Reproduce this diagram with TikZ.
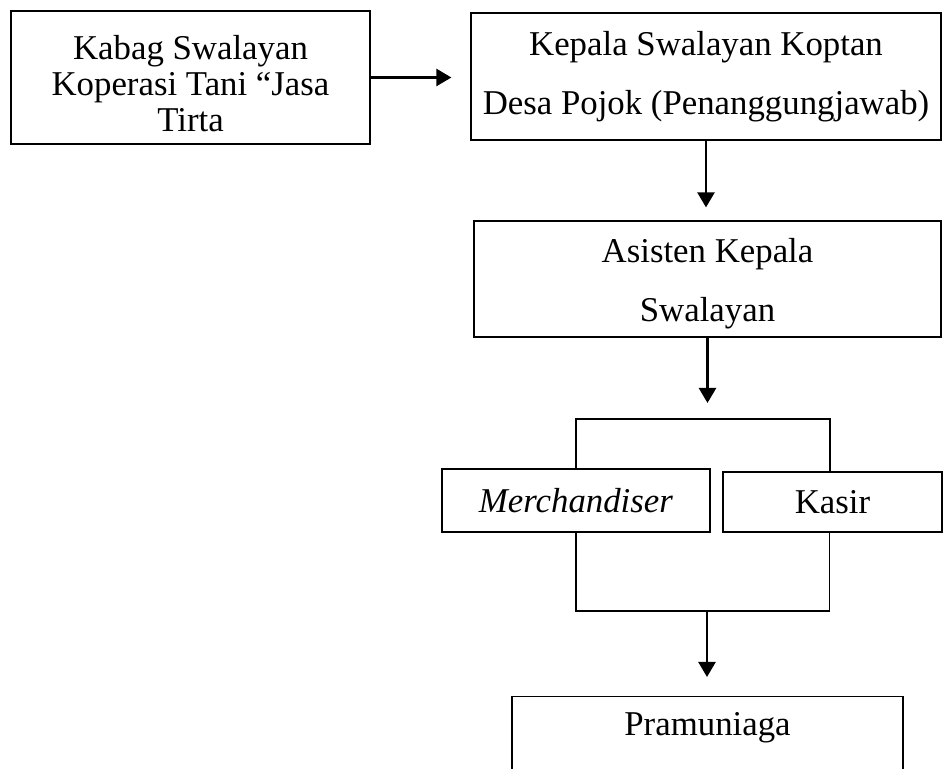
\documentclass[tikz,border=0pt]{standalone}
\usepackage{fontspec}
\setmainfont{Liberation Serif}
\usetikzlibrary{arrows.meta}
\tikzset{
  box/.style={draw, line width=0.6pt, inner sep=0pt, align=center, font=\fontsize{17.4pt}{18pt}\selectfont},
  widebox/.style={box, font=\fontsize{17.4pt}{29.5pt}\selectfont},
  arrow/.style={line width=1.2pt, -{Triangle[length=7.5pt, width=8.5pt]}, shorten >=8pt},
}

\begin{document}
\begin{tikzpicture}[x=0.5pt, y=-0.5pt]
  \clip (0,0) rectangle (943,769);
  % Nodes
  \node[box, minimum width=179.5pt, minimum height=66.5pt] (kabag) at (190.5,77.5) {\rule{0pt}{18pt}Kabag Swalayan\\Koperasi Tani “Jasa\\Tirta};
  \node[widebox, minimum width=235pt, minimum height=63.5pt] (kepala) at (706,76.5) {Kepala Swalayan Koptan\\Desa Pojok (Penanggungjawab)};
  \node[widebox, minimum width=233.5pt, minimum height=58pt] (asisten) at (707.5,279) {\rule{0pt}{16.5pt}Asisten Kepala\\Swalayan};
  \node[box, minimum width=134pt, minimum height=31.5pt] (merch) at (576,500.5) {\textit{Merchandiser}};
  \node[box, minimum width=109.5pt, minimum height=30pt] (kasir) at (832.5,502) {Kasir};
  \node[box, anchor=north, minimum width=195.5pt, text height=12pt, text depth=30pt, inner ysep=7.5pt] (pram) at (707.5,696) {Pramuniaga};
  % Brackets
  \coordinate (brTop) at (707,419);
  \coordinate (brBot) at (707,611);
  \draw[line width=0.6pt] (merch.north) |- (brTop) -| ([xshift=-1.25pt]kasir.north);
  \draw[line width=0.6pt] (merch.south) |- (brBot) -| ([xshift=-1.5pt]kasir.south);
  % Arrows
  \draw[arrow, shorten >=9.5pt] (kabag.east) -- (kabag.east -| kepala.west);
  \draw[arrow, shorten >=6.5pt] (kepala.south) -- (kepala.south |- asisten.north);
  \draw[arrow] (asisten.south) -- (asisten.south |- brTop);
  \draw[arrow, shorten >=9.5pt] (brBot) -- (brBot |- pram.north);
\end{tikzpicture}
\end{document}
